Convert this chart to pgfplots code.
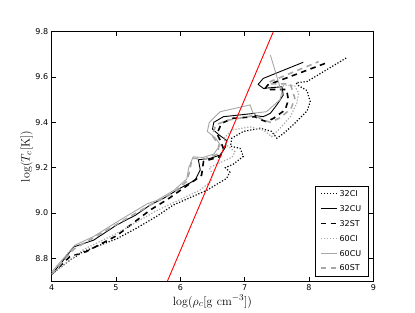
\documentclass[border=0pt]{standalone}
\usepackage[no-math]{fontspec}
\usepackage{pgfplots}
\pgfplotsset{compat=1.18}
\newfontfamily\dejavu{DejaVu Sans}
\definecolor{lgray}{rgb}{0.65,0.65,0.65}
\begin{document}
\begin{tikzpicture}
\path[use as bounding box] (0,0) rectangle (415pt,313pt);
\begin{axis}[
 at={(51.7pt,32pt)}, anchor=south west,
 scale only axis, width=321.6pt, height=249.3pt,
 xmin=4,xmax=9,ymin=8.7,ymax=9.8,
 xtick={4,5,6,7,8,9}, ytick={8.8,9.0,9.2,9.4,9.6,9.8},
 tick align=inside, major tick length=4pt, minor tick num=0,
 tick style={black, line width=0.6pt},
 axis line style={line width=0.8pt},
 /pgf/number format/assume math mode=true,
 ticklabel style={font=\dejavu\fontsize{8}{9.6}\selectfont},
 yticklabel style={/pgf/number format/.cd,fixed,fixed zerofill,precision=1},
 xticklabel style={/pgf/number format/.cd,fixed,precision=0},
 xlabel={$\log(\rho_c[\mathrm{g\ cm}^{-3}])$},
 ylabel={$\log(T_c[\mathrm{K}])$},
 label style={font=\fontsize{13}{15}\selectfont},
 xlabel style={at={(axis description cs:0.5,-0.097)},anchor=base},
 ylabel style={at={(axis description cs:-0.069,0.5)},anchor=base},
 legend style={at={(0.985,0.02)}, anchor=south east, draw=black, fill=white,
   font=\dejavu\fontsize{8}{9.6}\selectfont, inner xsep=5pt, inner ysep=3pt,
   row sep=4.8pt, nodes={inner xsep=2pt, inner ysep=2pt, text height=6pt, text depth=0pt},
   /tikz/every even column/.append style={column sep=6pt}},
 legend cell align=left,
 legend image code/.code={\draw[#1] (0pt,0pt) -- (16pt,0pt);},
]
\addplot[black, line width=1.2pt, dash pattern=on 1.2pt off 1.8pt] coordinates {
(4,8.73)(4.25,8.785)(4.49,8.83)(5.01,8.886)(5.3,8.93)(5.63,8.985)(5.89,9.035)(6.41,9.10)(6.72,9.153)(6.77,9.18)(6.70,9.20)(6.82,9.215)(6.98,9.25)(6.93,9.285)(6.78,9.295)(6.80,9.33)(6.98,9.36)(7.24,9.374)(7.42,9.36)(7.50,9.33)(7.60,9.35)(7.78,9.396)(7.97,9.45)(8.02,9.49)(7.97,9.54)(7.82,9.565)(7.80,9.575)(7.97,9.58)(8.59,9.686)};
\addlegendentry{32CI}
\addplot[black, line width=0.9pt] coordinates {
(4,8.73)(4.15,8.78)(4.34,8.85)(4.65,8.88)(5.01,8.947)(5.3,8.99)(5.53,9.035)(5.74,9.065)(6.0,9.11)(6.23,9.145)(6.31,9.19)(6.28,9.235)(6.46,9.241)(6.62,9.256)(6.70,9.29)(6.72,9.32)(6.60,9.345)(6.50,9.37)(6.52,9.40)(6.67,9.425)(7.16,9.44)(7.16,9.43)(7.29,9.425)(7.40,9.44)(7.50,9.477)(7.60,9.52)(7.58,9.557)(7.29,9.55)(7.21,9.568)(7.29,9.594)(7.91,9.665)};
\addlegendentry{32CU}
\addplot[black, line width=1.6pt, dash pattern=on 5.5pt off 4.5pt] coordinates {
(4,8.73)(4.28,8.807)(4.54,8.83)(5.01,8.90)(5.53,9.013)(5.8,9.06)(6.0,9.10)(6.25,9.15)(6.33,9.167)(6.36,9.227)(6.45,9.235)(6.62,9.249)(6.67,9.285)(6.62,9.32)(6.57,9.35)(6.64,9.396)(6.82,9.418)(7.16,9.425)(7.27,9.41)(7.34,9.403)(7.45,9.418)(7.63,9.455)(7.68,9.50)(7.65,9.545)(7.40,9.545)(7.32,9.55)(7.36,9.565)(8.25,9.66)};
\addlegendentry{32ST}
\addplot[lgray, line width=1.2pt, dash pattern=on 1.2pt off 1.8pt] coordinates {
(4,8.73)(4.5,8.84)(5.01,8.91)(5.63,9.01)(6.0,9.06)(6.3,9.10)(6.48,9.14)(6.50,9.17)(6.45,9.20)(6.60,9.22)(6.80,9.245)(6.85,9.27)(6.72,9.30)(6.68,9.33)(6.80,9.366)(7.08,9.38)(7.29,9.366)(7.42,9.337)(7.55,9.374)(7.71,9.425)(7.81,9.484)(7.84,9.53)(7.78,9.56)(7.62,9.565)(7.55,9.55)};
\addlegendentry{60CI}
\addplot[lgray, line width=0.9pt] coordinates {
(4,8.74)(4.36,8.858)(4.65,8.896)(5.01,8.96)(5.48,9.04)(5.63,9.055)(5.9,9.1)(6.1,9.15)(6.13,9.2)(6.20,9.248)(6.35,9.245)(6.52,9.26)(6.62,9.30)(6.55,9.33)(6.42,9.36)(6.45,9.40)(6.62,9.447)(7.085,9.477)(7.13,9.44)(7.34,9.447)(7.55,9.50)(7.58,9.535)(7.55,9.555)(7.40,9.697)};
\addlegendentry{60CU}
\addplot[lgray, line width=1.6pt, dash pattern=on 5.5pt off 4.5pt] coordinates {
(4,8.73)(4.34,8.84)(5.01,8.95)(5.5,9.03)(5.9,9.09)(6.1,9.14)(6.15,9.19)(6.18,9.241)(6.40,9.24)(6.58,9.26)(6.60,9.30)(6.50,9.34)(6.55,9.39)(6.75,9.41)(7.15,9.43)(7.30,9.41)(7.40,9.40)(7.55,9.42)(7.72,9.46)(7.78,9.506)(7.71,9.57)(7.37,9.57)(7.40,9.58)(8.15,9.668)};
\addlegendentry{60ST}
\addplot[red, line width=0.9pt, forget plot] coordinates {(5.8,8.7)(7.446,9.8)};
\end{axis}
\end{tikzpicture}
\end{document}
